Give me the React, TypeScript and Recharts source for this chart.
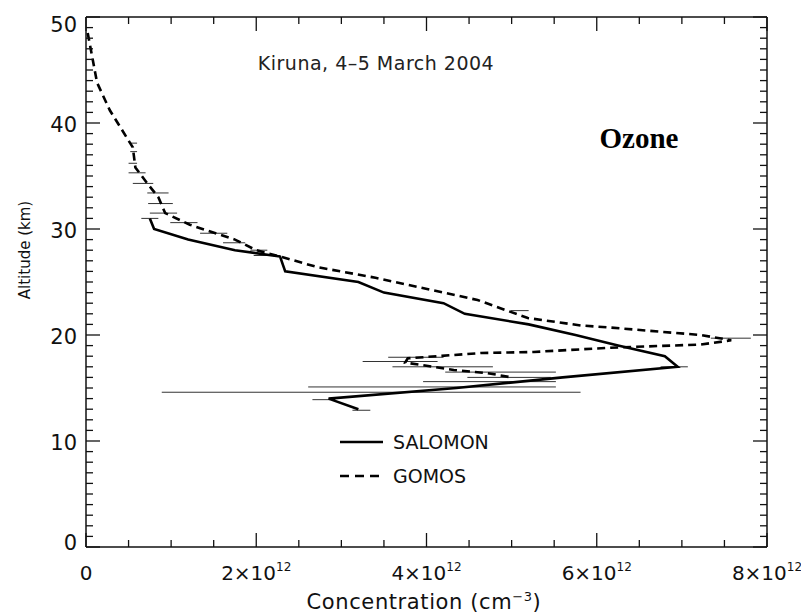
import React from "react"
import { ScatterChart, Scatter, XAxis, YAxis, ErrorBar } from "recharts"

// concentrations in units of 10^12 cm^-3, altitude in km
const salomonAlt = [31, 30, 29, 28, 27.4, 26, 25, 24, 23, 22, 21, 20, 19, 18, 17, 16, 15, 14, 13]
const salomonConc = [0.75, 0.8, 1.2, 1.75, 2.28, 2.34, 3.2, 3.5, 4.2, 4.45, 5.2, 5.75, 6.25, 6.8, 6.95, 5.6, 4.35, 2.85, 3.2]

const gomosAlt = [48.5, 43.8, 41.2, 37.7, 35.8, 34.2, 33, 31.5, 30.4, 29, 28, 27.4, 26.4, 25.4, 23.3, 21.6, 20.9, 20.7, 20, 19.5, 19.1, 18.8, 18.4, 18.3, 17.8, 17.4, 16.7, 16.4, 16]
const gomosConc = [0.02, 0.13, 0.28, 0.55, 0.58, 0.73, 0.85, 0.93, 1.22, 1.75, 2.0, 2.28, 2.72, 3.4, 4.6, 5.19, 5.81, 6.16, 7.22, 7.58, 7.22, 6.16, 5.26, 4.64, 3.78, 3.75, 4.32, 4.72, 5.0]

// horizontal error bars: altitude, low, high
const errAlt = [38.1, 37.3, 36.2, 35.3, 34.3, 33.4, 32.4, 31.5, 31, 30.6, 29.6, 28.7, 28, 27.5, 22.3, 19.7, 17.9, 17.5, 17, 17, 16.5, 16, 15.6, 15.1, 14.6, 13.9, 12.9]
const errLow = [0.52, 0.52, 0.5, 0.5, 0.55, 0.72, 0.73, 0.75, 0.65, 0.99, 1.34, 1.61, 1.93, 1.97, 4.99, 7.34, 3.55, 3.25, 3.6, 6.75, 4.22, 4.48, 3.96, 2.61, 0.89, 2.66, 3.13]
const errHigh = [0.6, 0.6, 0.6, 0.7, 0.79, 0.97, 1.02, 1.07, 0.85, 1.31, 1.66, 1.87, 2.13, 2.28, 5.2, 7.81, 4.2, 4.13, 4.78, 7.07, 5.52, 5.46, 5.52, 5.52, 5.81, 2.87, 3.34]

const xTicks = Array.from({ length: 17 }, (_, i) => i * 0.5)
const yTicks = Array.from({ length: 51 }, (_, i) => i)

const salomon = salomonAlt.map((a, i) => ({ x: salomonConc[i], alt: a }))
const gomos = gomosAlt.map((a, i) => ({ x: gomosConc[i], alt: a }))
const errors = errAlt.map((a, i) => ({
  x: (errLow[i] + errHigh[i]) / 2,
  alt: a,
  err: (errHigh[i] - errLow[i]) / 2,
}))

const FONT = "'DejaVu Sans', sans-serif"
const noDot = () => <g />

const BottomTick = (props: any) => {
  const { x, y, payload } = props
  const v = payload.value
  const major = v % 2 === 0
  return (
    <g>
      <line x1={x} y1={y} x2={x} y2={y - (major ? 14 : 7)} stroke="#111" strokeWidth={1.3} />
      {major && (
        <text x={x} y={y + 33} textAnchor="middle" fontSize={20} fontFamily={FONT} fill="#111">
          {v === 0 ? "0" : `${v}×10`}
          {v !== 0 && <tspan dy={-9} fontSize={12}>12</tspan>}
        </text>
      )}
    </g>
  )
}

const TopTick = (props: any) => {
  const { x, y, payload } = props
  const major = payload.value % 2 === 0
  return <line x1={x} y1={y} x2={x} y2={y + (major ? 14 : 7)} stroke="#111" strokeWidth={1.3} />
}

const LeftTick = (props: any) => {
  const { x, y, payload } = props
  const v = payload.value
  const major = v % 10 === 0
  const dy = v === 50 ? 15 : v === 0 ? 3 : 9
  return (
    <g>
      <line x1={x} y1={y} x2={x + (major ? 14 : 7)} y2={y} stroke="#111" strokeWidth={1.3} />
      {major && (
        <text x={x - 9} y={y + dy} textAnchor="end" fontSize={21} fontFamily={FONT} fill="#111">
          {v}
        </text>
      )}
    </g>
  )
}

const RightTick = (props: any) => {
  const { x, y, payload } = props
  const major = payload.value % 10 === 0
  return <line x1={x} y1={y} x2={x - (major ? 14 : 7)} y2={y} stroke="#111" strokeWidth={1.3} />
}

export default function App() {
  return (
    <div style={{ width: 801, height: 605 }}>
      <ScatterChart width={801} height={605} margin={{ top: 0, right: 0, bottom: 0, left: 0 }}>
        <XAxis xAxisId="b" type="number" dataKey="x" domain={[0, 8]} ticks={xTicks} height={66}
          tickSize={0} tickMargin={0} tick={<BottomTick />} axisLine={{ stroke: "#111", strokeWidth: 1.5 }}
          allowDataOverflow interval={0} />
        <XAxis xAxisId="t" orientation="top" type="number" dataKey="x" domain={[0, 8]} ticks={xTicks} height={9}
          tickSize={0} tickMargin={0} tick={<TopTick />} axisLine={{ stroke: "#111", strokeWidth: 1.5 }}
          allowDataOverflow interval={0} />
        <YAxis yAxisId="l" type="number" dataKey="alt" domain={[0, 50]} ticks={yTicks} width={78}
          tickSize={0} tickMargin={0} tick={<LeftTick />} axisLine={{ stroke: "#111", strokeWidth: 1.5 }}
          allowDataOverflow interval={0} />
        <YAxis yAxisId="r" orientation="right" type="number" dataKey="alt" domain={[0, 50]} ticks={yTicks} width={42}
          tickSize={0} tickMargin={0} tick={<RightTick />} axisLine={{ stroke: "#111", strokeWidth: 1.5 }}
          allowDataOverflow interval={0} />

        <Scatter name="errors" data={errors} xAxisId="b" yAxisId="l" shape={noDot} isAnimationActive={false}>
          <ErrorBar dataKey="err" direction="x" width={0} stroke="#333" strokeWidth={1} isAnimationActive={false} />
        </Scatter>
        <Scatter name="SALOMON" data={salomon} xAxisId="b" yAxisId="l" shape={noDot} line={{ stroke: "#000", strokeWidth: 2.6 }} lineType="joint" isAnimationActive={false} />
        <Scatter name="GOMOS" data={gomos} xAxisId="b" yAxisId="l" shape={noDot} line={{ stroke: "#000", strokeWidth: 2.6, strokeDasharray: "8 5" }} lineType="joint" isAnimationActive={false} />
        <Scatter name="frame" data={gomos} xAxisId="t" yAxisId="r" shape={noDot} isAnimationActive={false} />

        <text x={368} y={62} textAnchor="middle" fontSize={19} letterSpacing={0.5} fontFamily={FONT} fill="#222">Kiruna, 4–5 March 2004</text>
        <text x={631} y={140} textAnchor="middle" fontSize={29} fontWeight="bold" fontFamily="'Liberation Serif', serif" fill="#000">Ozone</text>
        <text transform="translate(22,242) rotate(-90)" textAnchor="middle" fontSize={15} fontFamily={FONT} fill="#111">Altitude (km)</text>
        <text x={416} y={601} textAnchor="middle" fontSize={21} letterSpacing={0.6} fontFamily={FONT} fill="#111">
          Concentration (cm<tspan dy={-8} fontSize={13}>−3</tspan><tspan dy={8}>)</tspan>
        </text>

        <line x1={332} y1={434} x2={375} y2={434} stroke="#000" strokeWidth={2.6} />
        <text x={385} y={441} fontSize={19} fontFamily={FONT} fill="#111">SALOMON</text>
        <line x1={332} y1={468} x2={375} y2={468} stroke="#000" strokeWidth={2.6} strokeDasharray="9 6" />
        <text x={385} y={475} fontSize={19} fontFamily={FONT} fill="#111">GOMOS</text>
      </ScatterChart>
    </div>
  )
}
